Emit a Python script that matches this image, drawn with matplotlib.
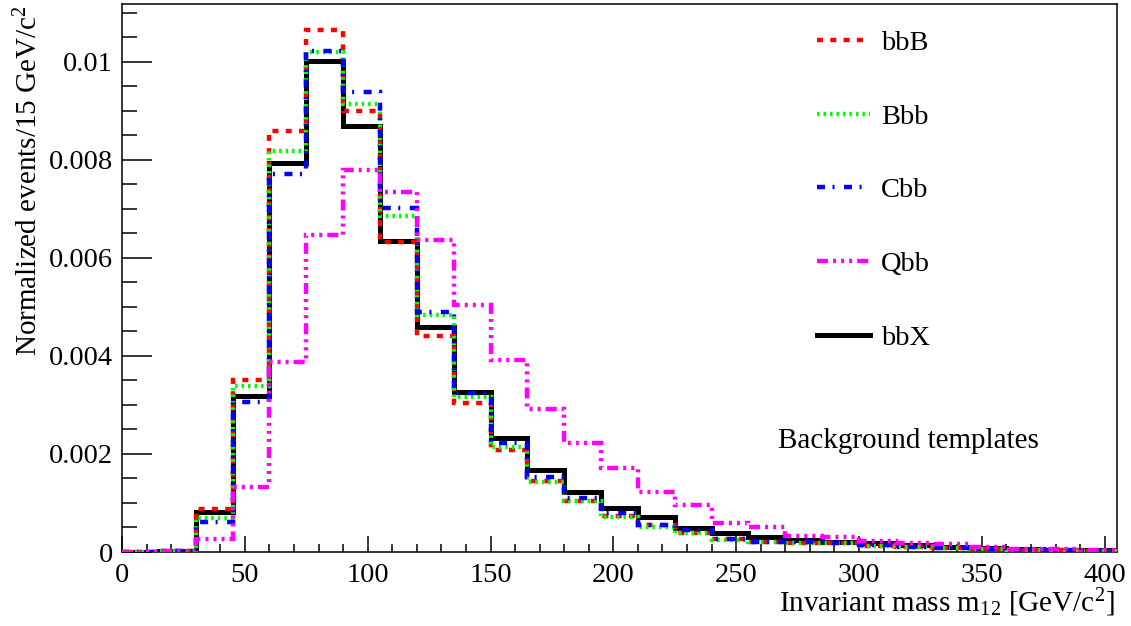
import numpy as np
import matplotlib
matplotlib.use("Agg")
import matplotlib.pyplot as plt
from matplotlib.ticker import MultipleLocator, FuncFormatter

plt.rcParams['font.family'] = ['Liberation Serif', 'DejaVu Serif']
plt.rcParams['mathtext.fontset'] = 'custom'
plt.rcParams['mathtext.rm'] = 'Liberation Serif'
plt.rcParams['mathtext.it'] = 'Liberation Serif:italic'

# 27 bins of 15 GeV/c^2 from 0 to 405
bin_edges = np.arange(0, 406, 15)

bbB = [0.00001, 0.00003, 0.00088, 0.00350, 0.00859, 0.01065, 0.00899, 0.00632, 0.00441,
       0.00303, 0.00208, 0.00145, 0.00105, 0.00074, 0.00055, 0.00038, 0.00026, 0.00021,
       0.00019, 0.00019, 0.00013, 0.00010, 0.00008, 0.00007, 0.00005, 0.00004, 0.00003]
Bbb = [0.00001, 0.00003, 0.00069, 0.00339, 0.00819, 0.01020, 0.00914, 0.00686, 0.00484,
       0.00317, 0.00215, 0.00143, 0.00105, 0.00072, 0.00052, 0.00038, 0.00025, 0.00020,
       0.00019, 0.00018, 0.00013, 0.00010, 0.00008, 0.00006, 0.00005, 0.00003, 0.00002]
Cbb = [0.00001, 0.00003, 0.00061, 0.00307, 0.00771, 0.01022, 0.00938, 0.00701, 0.00490,
       0.00324, 0.00223, 0.00152, 0.00110, 0.00079, 0.00056, 0.00045, 0.00027, 0.00021,
       0.00020, 0.00019, 0.00014, 0.00010, 0.00008, 0.00006, 0.00005, 0.00004, 0.00003]
Qbb = [0.00001, 0.00002, 0.00026, 0.00133, 0.00387, 0.00646, 0.00780, 0.00734, 0.00637,
       0.00504, 0.00392, 0.00291, 0.00222, 0.00171, 0.00123, 0.00095, 0.00059, 0.00050,
       0.00033, 0.00031, 0.00023, 0.00018, 0.00017, 0.00011, 0.00007, 0.00006, 0.00005]
bbX = [0.00001, 0.00003, 0.00081, 0.00319, 0.00794, 0.01001, 0.00869, 0.00635, 0.00459,
       0.00327, 0.00233, 0.00167, 0.00123, 0.00090, 0.00072, 0.00048, 0.00039, 0.00030,
       0.00025, 0.00021, 0.00018, 0.00014, 0.00011, 0.00009, 0.00007, 0.00005, 0.00004]

W, H = 1131, 626
fig = plt.figure(figsize=(W / 100, H / 100), dpi=100)
ax = fig.add_axes([122 / W, 1 - 552 / H, (1117 - 122) / W, (552 - 4) / H])

fs = 20.5
lw = 3.2

h_x = ax.stairs(bbX, bin_edges, color='black', lw=3.6, zorder=2, label='bbX')
h_B = ax.stairs(bbB, bin_edges, color='#ff0000', lw=lw, zorder=3, label='bbB',
                linestyle=(0, (1.35, 1.64)))
h_b = ax.stairs(Bbb, bin_edges, color='#00ff00', lw=lw, zorder=4, label='Bbb',
                linestyle=(0, (0.56, 0.9)))
h_c = ax.stairs(Cbb, bin_edges, color='#0000ff', lw=lw, zorder=5, label='Cbb',
                linestyle=(0, (1.8, 1.69, 0.45, 2.14)))
h_q = ax.stairs(Qbb, bin_edges, color='#ff00ff', lw=lw, zorder=6, label='Qbb',
                linestyle=(0, (2.48, 1.13, 0.68, 1.13, 0.68, 1.13, 0.68, 1.13)))

ax.set_xlim(0, 405)
ax.set_ylim(0, 0.01118)

ax.xaxis.set_major_locator(MultipleLocator(50))
ax.xaxis.set_minor_locator(MultipleLocator(10))
ax.yaxis.set_major_locator(MultipleLocator(0.002))
ax.yaxis.set_minor_locator(MultipleLocator(0.0005))
ax.yaxis.set_major_formatter(FuncFormatter(lambda v, p: '%g' % round(v, 6)))

ax.tick_params(axis='both', which='both', direction='in', top=False, right=False,
               labelsize=fs, width=1.1)
ax.tick_params(axis='y', which='major', length=21.5, pad=6.5)
ax.tick_params(axis='y', which='minor', length=10.8)
ax.tick_params(axis='x', which='major', length=11.5, pad=8)
ax.tick_params(axis='x', which='minor', length=5.8)
for s in ax.spines.values():
    s.set_linewidth(1.1)

handles = [h_B, h_b, h_c, h_q, h_x]
leg = ax.legend(handles=handles, labels=['bbB', 'Bbb', 'Cbb', 'Qbb', 'bbX'],
                loc='upper left', bbox_to_anchor=(817 / W, 1 - 30 / H),
                bbox_transform=fig.transFigure, frameon=False, fontsize=fs,
                handlelength=1.85, handletextpad=0.4, labelspacing=1.68,
                borderpad=0, borderaxespad=0)

fig.text(778 / W, 1 - 448 / H, 'Background templates', fontsize=fs + 0.5, va='baseline')
fig.text(1115 / W, 1 - 612 / H, r'Invariant mass m$_{12}$ [GeV/c$^{2}$]',
         fontsize=fs + 0.5, ha='right', va='baseline')
fig.text(29 / W, 1 - 5 / H, r'Normalized events/15 GeV/c$^{2}$', fontsize=fs + 0.5,
         rotation=90, ha='center', va='top')

fig.savefig('out.png', dpi=100)
